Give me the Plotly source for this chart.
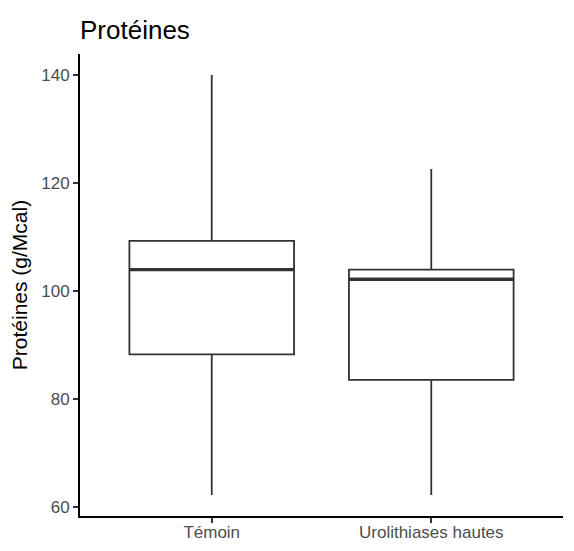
import plotly.graph_objects as go

categories = ["Témoin", "Urolithiases hautes"]
lower = [62.3, 62.3]
q1 = [88.3, 83.6]
median = [104.0, 102.2]
q3 = [109.3, 104.0]
upper = [140.0, 122.6]
y_ticks = [60, 80, 100, 120, 140]

positions = list(range(1, len(categories) + 1))
box_w = 0.75
line_col = "#333333"

# the page body adds an 8px margin; size the figure so it fits the window
W, H = 574 - 8, 551 - 8

fig = go.Figure()
for i, cat in enumerate(categories):
    fig.add_trace(go.Box(
        x=[positions[i]], q1=[q1[i]], median=[median[i]], q3=[q3[i]],
        lowerfence=[lower[i]], upperfence=[upper[i]],
        width=box_w, whiskerwidth=0, fillcolor="white",
        line=dict(color=line_col, width=1.8), name=cat, showlegend=False,
        hoverinfo="skip",
    ))
    fig.add_trace(go.Scatter(
        x=[positions[i] - box_w / 2, positions[i] + box_w / 2],
        y=[median[i], median[i]], mode="lines",
        line=dict(color=line_col, width=3.4), showlegend=False, hoverinfo="skip",
    ))

lo, hi = min(lower), max(upper)
pad = (hi - lo) * 0.05

fig.update_layout(
    width=W, height=H,
    margin=dict(l=72, r=11, t=46, b=35, autoexpand=False),
    plot_bgcolor="white", paper_bgcolor="white",
    font=dict(family="Liberation Sans, Arial, sans-serif"),
    title=dict(text="Protéines", x=72 / W, xanchor="left", y=1 - 22 / H, yanchor="middle",
               font=dict(size=26, color="black")),
    xaxis=dict(range=[0.4, len(categories) + 0.6], tickvals=positions, ticktext=categories,
               showline=True, linecolor="black", linewidth=2, showgrid=False, zeroline=False,
               ticks="outside", ticklen=5, tickwidth=1.5, tickcolor=line_col, automargin=False,
               ticklabelstandoff=-5,
               tickfont=dict(size=17, color="#4D4D4D")),
    yaxis=dict(range=[lo - pad, hi + pad], tickvals=y_ticks,
               showline=True, linecolor="black", linewidth=2, showgrid=False, zeroline=False,
               ticks="outside", ticklen=5, tickwidth=1.5, tickcolor=line_col, automargin=False,
               tickfont=dict(size=17, color="#4D4D4D"),
               title=dict(text="Protéines (g/Mcal)", font=dict(size=21, color="black"), standoff=8)),
)

fig.write_html("out.html")
